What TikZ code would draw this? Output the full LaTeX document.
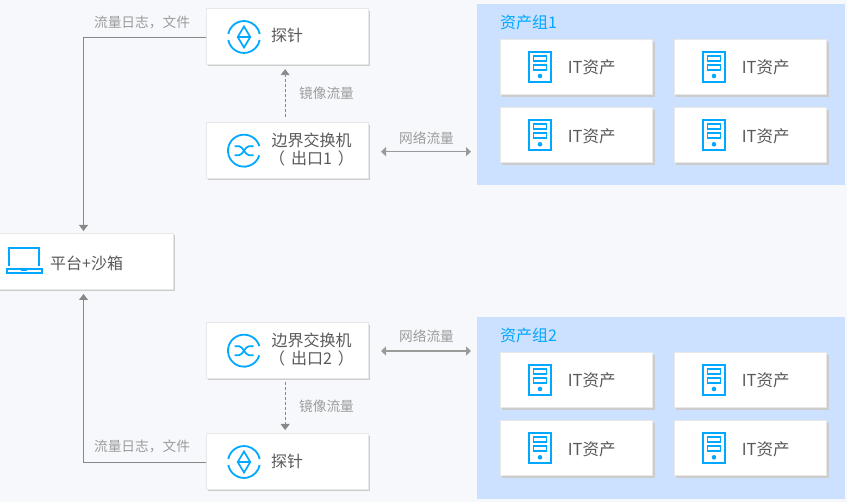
\documentclass[tikz,border=0pt]{standalone}
\usepackage{fontspec}
\setmainfont{Noto Sans CJK SC}
\usetikzlibrary{arrows.meta}
\definecolor{pagebg}{HTML}{F6F8FB}
\definecolor{groupbg}{HTML}{CCE0FF}
\definecolor{iconblue}{HTML}{00A8FF}
\definecolor{txt}{HTML}{5A5A5A}
\definecolor{lbl}{HTML}{9C9C9C}
\definecolor{conn}{HTML}{888888}
\tikzset{
  x=1pt,y=-1pt,
  card/.style={fill=white,draw=black!9,line width=.8pt,inner sep=0,outer sep=0,anchor=north west,
     minimum height=#1},
  shade box/.style={fill=black!20,draw=none},
  boxtext/.style={text=txt,font=\fontsize{16}{19}\selectfont,align=center,inner sep=0},
  assettext/.style={text=txt,font=\fontsize{16.5}{19}\selectfont,inner sep=0,anchor=west},
  edgelabel/.style={text=lbl,font=\fontsize{13.7}{16}\selectfont,inner sep=0},
  grouplabel/.style={text=iconblue,font=\fontsize{16}{19}\selectfont,inner sep=0,anchor=west},
  group/.style={fill=groupbg,draw=none,inner sep=0,outer sep=0,anchor=north west,minimum width=368pt,minimum height=#1},
  wire/.style={draw=conn,line width=.9pt,-{Triangle[length=6pt,width=9pt]}},
  wiredash/.style={wire,densely dashed},
  wire2/.style={draw=conn!85!white,line width=1.2pt,{Triangle[length=5pt,width=9pt]}-{Triangle[length=5pt,width=9pt]}},
  icon/.style={draw=iconblue,line width=1.8pt},
  probeicon/.pic={
    \draw[icon] (-15.7,-3) arc[start angle=169,end angle=11,radius=16pt];
    \draw[icon] (-15.7,3) arc[start angle=191,end angle=349,radius=16pt];
    \draw[icon,line width=1.7pt,line join=miter] (0,-10.5)--(6.3,0)--(0,10.5)--(-6.3,0)--cycle (-6.3,0)--(6.3,0);
  },
  switchicon/.pic={
    \draw[icon] (15.3,-4.7) arc[start angle=17,end angle=343,radius=16pt];
    \draw[icon,line width=1.7pt] (-9.5,-4.5)--(-5,-4.5) .. controls (-1,-4.5) and (1,4.5) .. (5,4.5)--(9.5,4.5);
    \draw[icon,line width=1.7pt] (-9.5,4.5)--(-5,4.5) .. controls (-1,4.5) and (1,-4.5) .. (5,-4.5)--(9.5,-4.5);
  },
  servericon/.pic={
    \draw[icon,line width=2pt] (-11.2,-15.3) rectangle (11.2,14.7);
    \draw[icon] (-6.5,-11) rectangle (6.5,-6.3);
    \draw[icon] (-6.5,-2) rectangle (6.5,2.7);
    \fill[iconblue] (0,9) circle[radius=2.3pt];
  },
  laptopicon/.pic={
    \draw[icon,line width=2pt] (-14.7,5) -- (-14.7,-13) -- (14.7,-13) -- (14.7,5);
    \draw[icon,line width=2pt] (-17,8.5) rectangle (17.5,12);
    \fill[iconblue] (-3,8.5) rectangle (3,10.5);
  },
}
\newcommand{\cardbox}[6]{% name,x,y,w,h,empty
  \fill[shade box] (#2+2,#3+2.3) rectangle (#2+#4+2,#3+#5+2.3);
  \node[card=#5 pt,minimum width=#4 pt] (#1) at (#2,#3) {};
}
\newcommand{\assetbox}[3]{% name,x,y
  \cardbox{#1}{#2}{#3}{152.5}{55}{}
  \pic at (#2+40,#3+27.5) {servericon};
  \node[assettext] (#1t) at (#2+67.7,#3+28) {IT资产};
}
\begin{document}
\begin{tikzpicture}
\useasboundingbox (0,0) rectangle (847,502);
\fill[pagebg] (0,0) rectangle (847,502);

% groups
\node[group=181.5pt] (g1) at (477,3.7) {};
\node[group=182pt] (g2) at (477,317) {};
\node[grouplabel] (g1t) at (500,22) {资产组1};
\node[grouplabel] (g2t) at (500,335) {资产组2};

\assetbox{a1}{500}{39.5}
\assetbox{a2}{674}{39.5}
\assetbox{a3}{500}{107.8}
\assetbox{a4}{674}{107.8}
\assetbox{a5}{500}{352.5}
\assetbox{a6}{674}{352.5}
\assetbox{a7}{500}{420.8}
\assetbox{a8}{674}{420.8}

% device cards
\cardbox{probeA}{206}{8.5}{162.3}{55.7}{}
\cardbox{switchA}{206}{122.5}{162.3}{55.7}{}
\cardbox{platform}{-6}{233}{179}{56}{}
\cardbox{switchB}{206}{322.5}{162.3}{55.7}{}
\cardbox{probeB}{206}{433.5}{162.3}{55.7}{}

\pic at (244,37) {probeicon};
\pic at (244,150.7) {switchicon};
\pic at (244,350.7) {switchicon};
\pic at (244,462) {probeicon};
\pic at (24,261) {laptopicon};

\node[boxtext,anchor=west] (probeAt) at (271,35.5) {探针};
\node[boxtext,anchor=center] (switchAt) at (311.5,149.5) {边界交换机\\[-1.5pt]（\hspace{6pt}出口1\hspace{6pt}）};
\node[boxtext,anchor=center] (switchBt) at (311.5,349.5) {边界交换机\\[-1.5pt]（\hspace{6pt}出口2\hspace{6pt}）};
\node[boxtext,anchor=west] (probeBt) at (271,461) {探针};
\node[boxtext,anchor=west] (platformt) at (50,263.5) {平台+沙箱};

% connectors
\draw[wire,shorten >=2pt] ([yshift=-1.5pt]probeA.west) -| (platform.north);
\draw[wire,shorten >=5pt] ([yshift=-1.5pt]probeB.west) -| (platform.south);
\draw[wiredash,shorten <=5pt,shorten >=5pt] ([xshift=-2pt]switchA.north) -- ([xshift=-2pt]probeA.south);
\draw[wiredash,shorten <=3.5pt,shorten >=3.5pt] ([xshift=-2pt]switchB.south) -- ([xshift=-2pt]probeB.north);
\coordinate (n1a) at (381,151.7);
\coordinate (n1b) at (471,151.7);
\coordinate (n2a) at (381,351);
\coordinate (n2b) at (471,351);
\draw[wire2] (n1a) -- (n1b);
\draw[wire2] (n2a) -- (n2b);

% connector labels
\node[edgelabel] (l1) at (142,22.5) {流量日志，文件};
\node[edgelabel] (l2) at (142,446.5) {流量日志，文件};
\node[edgelabel] (l3) at (326.5,93) {镜像流量};
\node[edgelabel] (l4) at (326.5,406.5) {镜像流量};
\node[edgelabel] (l5) at (426.5,138) {网络流量};
\node[edgelabel] (l6) at (426.5,336.5) {网络流量};
\end{tikzpicture}
\end{document}
